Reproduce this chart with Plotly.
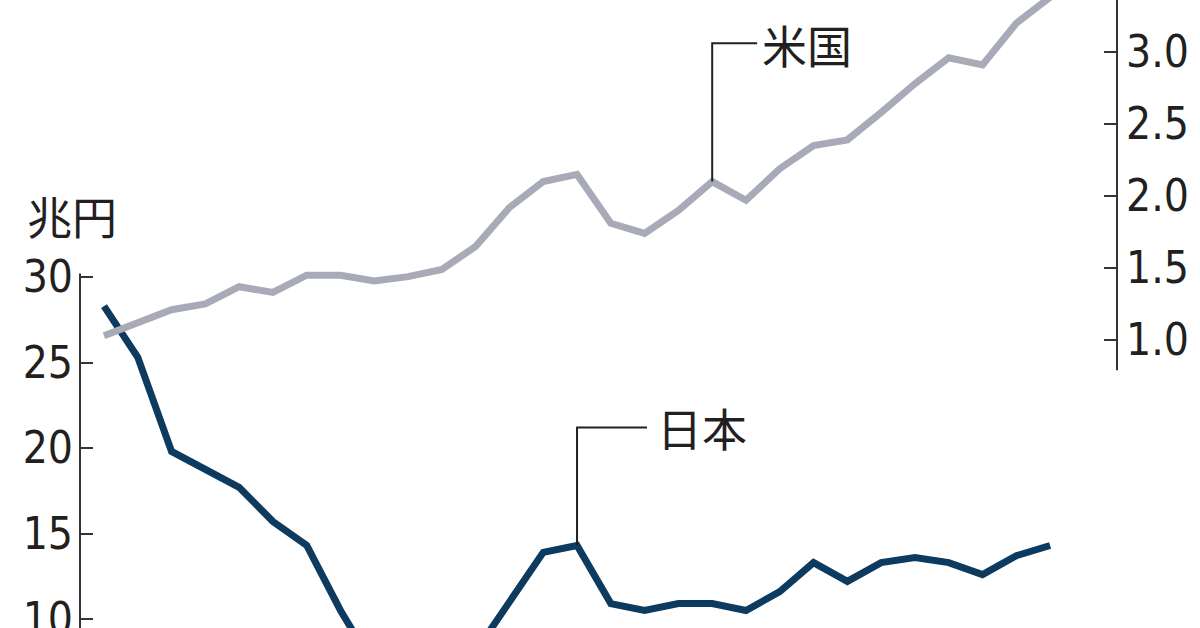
import plotly.graph_objects as go

years = list(range(1993, 2022))

# 日本 (兆円, left axis)
japan = [28.3, 25.3, 19.8, 18.8, 17.7, 15.7, 14.3, 10.5, 7.2, 6.5, 6.6, 8.1,
         11.0, 13.9, 14.3, 10.9, 10.5, 10.9, 10.9, 10.5, 11.6, 13.3, 12.2,
         13.3, 13.6, 13.3, 12.6, 13.7, 14.3]

# 米国 (right axis)
usa = [1.03, 1.12, 1.21, 1.25, 1.37, 1.33, 1.45, 1.45, 1.41, 1.44, 1.49, 1.65,
       1.92, 2.10, 2.15, 1.81, 1.74, 1.90, 2.10, 1.97, 2.19, 2.35, 2.39,
       2.58, 2.78, 2.96, 2.91, 3.20, 3.38]

left_ticks = [10, 15, 20, 25, 30]
right_ticks = [1.0, 1.5, 2.0, 2.5, 3.0]

navy = '#0d3a5f'
grey = '#a8aab8'
ink = '#231f20'
num_font = dict(family='DejaVu Sans Condensed, Roboto, sans-serif', size=44, color=ink)
jp_font = dict(family='Noto Sans CJK JP', size=45, color=ink)

fig = go.Figure()
fig.add_trace(go.Scatter(x=years, y=usa, yaxis='y2', mode='lines',
                         line=dict(color=grey, width=7), name='米国'))
fig.add_trace(go.Scatter(x=years, y=japan, mode='lines',
                         line=dict(color=navy, width=7), name='日本'))

fig.update_layout(
    width=1200, height=628,
    margin=dict(l=0, r=0, t=0, b=0, pad=0, autoexpand=False),
    paper_bgcolor='white', plot_bgcolor='white',
    showlegend=False,
    xaxis=dict(domain=[80 / 1200, 1117 / 1200], range=[1992.29, 2022.98],
               visible=False, automargin=False),
    yaxis=dict(range=[9.474, 46.2], tickvals=left_ticks, ticks='inside',
               ticklen=13, tickwidth=2, tickcolor='#333', showgrid=False,
               zeroline=False, showline=False, tickfont=num_font,
               ticklabelstandoff=6, ticklabeloverflow='allow', automargin=False),
    yaxis2=dict(range=[-1.0, 3.361], overlaying='y', side='right', anchor='x',
                tickvals=right_ticks, tickformat='.1f', ticks='inside',
                ticklen=13, tickwidth=2, tickcolor='#333', showgrid=False,
                zeroline=False, showline=False, tickfont=num_font,
                ticklabelstandoff=8, ticklabeloverflow='allow', automargin=False),
)

# axis lines (only partly drawn in the original)
fig.add_shape(type='line', xref='paper', yref='y', x0=80 / 1200, x1=80 / 1200,
              y0=30.2, y1=9.474, line=dict(color='#333', width=2))
fig.add_shape(type='line', xref='paper', yref='y2', x0=1117 / 1200, x1=1117 / 1200,
              y0=0.79, y1=3.361, line=dict(color='#333', width=2))

# 3.5 label sits mostly above the cropped top edge
fig.add_annotation(x=1124 / 1200, y=3.5, xref='paper', yref='y2', text='3.5',
                   showarrow=False, xanchor='left', yanchor='middle', font=num_font)

# leader lines + labels
fig.add_shape(type='path', xref='x', yref='y',
              path=f'M 2007,{japan[14]} L 2007,21.2 L 2009.07,21.2',
              line=dict(color=ink, width=2))
fig.add_shape(type='path', xref='x', yref='y2',
              path=f'M 2011,{usa[18]} L 2011,3.06 L 2012.33,3.06',
              line=dict(color=ink, width=2))

fig.add_annotation(x=2009.3, y=21.2, xref='x', yref='y', text='日本',
                   showarrow=False, xanchor='left', yanchor='middle', font=jp_font)
fig.add_annotation(x=2012.42, y=3.05, xref='x', yref='y2', text='米国',
                   showarrow=False, xanchor='left', yanchor='middle', font=jp_font)
fig.add_annotation(x=25 / 1200, y=1 - 216 / 628, xref='paper', yref='paper',
                   text='兆円', showarrow=False, xanchor='left', yanchor='middle',
                   font=jp_font)

fig.write_html("out.html", config={'displayModeBar': False},
               post_script="document.body.style.margin='0';")
